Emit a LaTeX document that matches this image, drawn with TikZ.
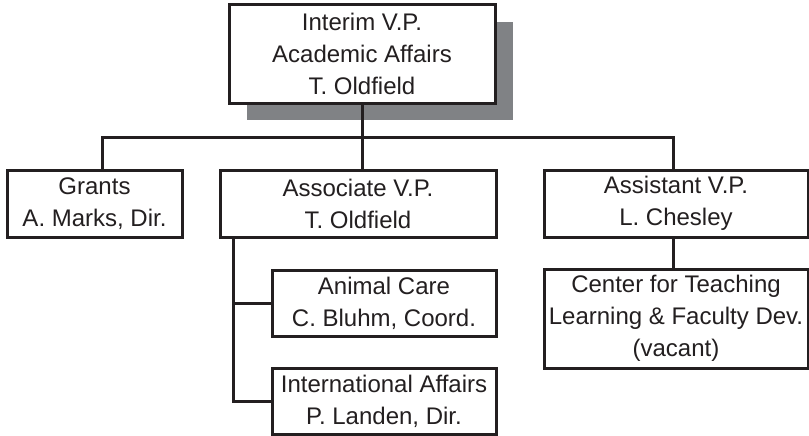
\documentclass[tikz,border=0pt]{standalone}
\usepackage{fontspec}
\setmainfont{Liberation Sans}
\usepackage{tikz}
\usetikzlibrary{arrows,positioning,shadows}
\usepackage{xcolor}
\definecolor{ink}{HTML}{231F20}
\definecolor{shade}{HTML}{808285}

\begin{document}
\begin{tikzpicture}[x=1pt,y=-1pt,line width=3pt,draw=ink,
                    font=\fontsize{24}{32}\selectfont]
  \tikzstyle{unit}=[rectangle,draw=ink,line width=3pt,fill=white,text=ink,
                    align=center,inner sep=0pt]
  \tikzstyle{head unit}=[unit,drop shadow={shadow xshift=18pt,shadow yshift=-17pt,
                    fill=shade,opacity=1}]

  \useasboundingbox (0,0) rectangle (809,436);

  \node[head unit,minimum width=266pt,minimum height=98pt] (VP) at (362,54)
        {Interim V.P.\\Academic Affairs\\T. Oldfield};
  \node[unit,minimum width=175pt,minimum height=67pt] (G) at (94.5,203.5)
        {Grants\\A. Marks, Dir.};
  \node[unit,minimum width=276pt,minimum height=67pt] (AV) at (358,203.5)
        {Associate V.P.\\T. Oldfield};
  \node[unit,minimum width=264pt,minimum height=67pt] (SV) at (676,203.5)
        {Assistant V.P.\\L. Chesley};
  \node[unit,minimum width=224pt,minimum height=66pt] (AC) at (384,303)
        {Animal Care\\C. Bluhm, Coord.};
  \node[unit,minimum width=224pt,minimum height=66pt] (IA) at (384,401)
        {International Affairs\\P. Landen, Dir.};
  \node[unit,minimum width=264pt,minimum height=99pt] (CT) at (676,318.5)
        {Center for Teaching\\Learning \& Faculty Dev.\\(vacant)};

  \coordinate (bus) at (673,137);
  \coordinate (spine) at ([xshift=-125pt]AV.south);

  \draw (VP.south) -- (VP.south |- AV.north);
  \draw ([xshift=7.5pt]G.north) |- (bus) -- ([xshift=-3pt]SV.north);
  \draw (spine) |- (IA.west);
  \draw (AC.west) -- (AC.west -| spine);
  \draw ([xshift=-3pt]SV.south) -- ([xshift=-3pt]CT.north);

\end{tikzpicture}
\end{document}
